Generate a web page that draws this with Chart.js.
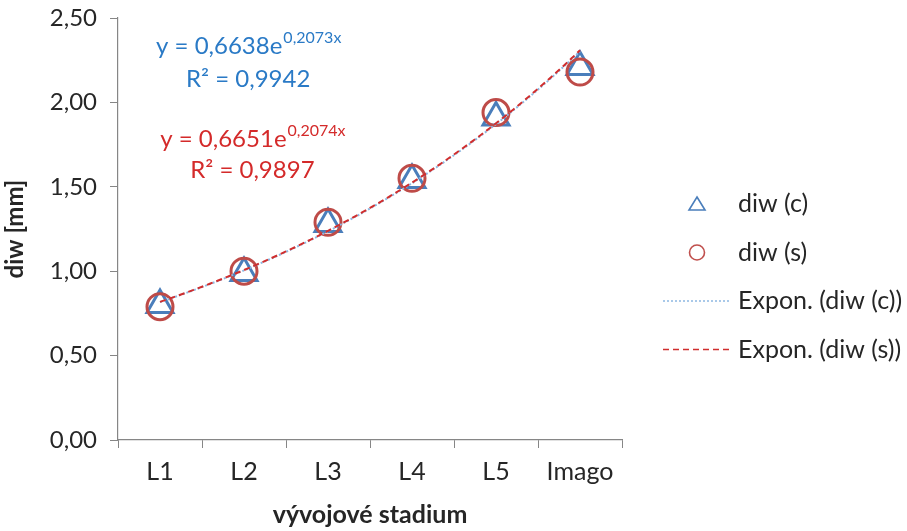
<!DOCTYPE html>
<html>
<head>
<meta charset="utf-8">
<script src="https://cdn.jsdelivr.net/npm/chart.js@4/dist/chart.umd.min.js"></script>
<style>
  html, body { margin: 0; padding: 0; background: #ffffff; }
  #wrap { width: 907px; height: 531px; }
</style>
</head>
<body>
<div id="wrap"><canvas id="chart"></canvas></div>
<script>
// Developmental stages and measured diw [mm]
const stages = ['L1', 'L2', 'L3', 'L4', 'L5', 'Imago'];
const diwC = [0.80, 0.99, 1.28, 1.54, 1.91, 2.21];
const diwS = [0.79, 1.00, 1.29, 1.55, 1.94, 2.18];
const yTicks = [0, 0.5, 1.0, 1.5, 2.0, 2.5];

// Exponential trend lines y = a * e^(b * x)
const fitC = { a: 0.6638, b: 0.2073, r2: 0.9942 };
const fitS = { a: 0.6651, b: 0.2074, r2: 0.9897 };

const FONT = 'Lato, "Open Sans", sans-serif';
const TEXT = '#262626';
const AXIS = '#868686';
const BLUE = '#4A7EBB';
const RED = '#BE4B48';

const fmt = v => v.toFixed(2).replace('.', ',');
const fmt4 = v => v.toFixed(4).replace('.', ',');

function trendPoints(fit) {
  const pts = [];
  for (let i = 0; i <= 50; i++) {
    const x = 1 + i * 0.1;
    pts.push({ x: x, y: fit.a * Math.exp(fit.b * x) });
  }
  return pts;
}

// Equations of the fitted curves, drawn inside the plot
const equationPlugin = {
  id: 'equations',
  afterDatasetsDraw(chart) {
    const ctx = chart.ctx;
    const xs = chart.scales.xt, ys = chart.scales.y;
    const items = [
      { fit: fitC, color: '#2A7AC6', x: 2.05, yEq: 2.335, yR: 2.14 },
      { fit: fitS, color: '#D42A2A', x: 2.10, yEq: 1.782, yR: 1.60 }
    ];
    ctx.save();
    ctx.textBaseline = 'middle';
    items.forEach(it => {
      const cx = xs.getPixelForValue(it.x);
      const main = 'y = ' + fmt4(it.fit.a) + 'e';
      const sup = fmt4(it.fit.b) + 'x';
      ctx.font = '24px ' + FONT;
      const wMain = ctx.measureText(main).width;
      ctx.font = '16px ' + FONT;
      const wSup = ctx.measureText(sup).width;
      const x0 = cx - (wMain + wSup) / 2;
      const yEq = ys.getPixelForValue(it.yEq);
      ctx.fillStyle = it.color;
      ctx.textAlign = 'left';
      ctx.font = '24px ' + FONT;
      ctx.fillText(main, x0, yEq);
      ctx.font = '16px ' + FONT;
      ctx.fillText(sup, x0 + wMain + 1, yEq - 8);
      ctx.font = '24px ' + FONT;
      ctx.textAlign = 'center';
      ctx.fillText('R² = ' + fmt4(it.fit.r2), cx, ys.getPixelForValue(it.yR));
    });
    ctx.restore();
  }
};

// Legend at the right: marker or line sample followed by its label
const legendPlugin = {
  id: 'sideLegend',
  afterDraw(chart) {
    const ctx = chart.ctx;
    const area = chart.chartArea;
    const cx = area.right + 75;
    const tx = area.right + 116;
    const top = area.top + 186;
    const step = 48.5;
    ctx.save();
    chart.data.datasets.forEach((ds, i) => {
      const y = top + i * step;
      if (ds.legendMarker === 'triangle') {
        ctx.strokeStyle = BLUE; ctx.lineWidth = 1.6;
        ctx.beginPath();
        ctx.moveTo(cx, y - 7); ctx.lineTo(cx + 8, y + 6); ctx.lineTo(cx - 8, y + 6);
        ctx.closePath(); ctx.stroke();
      } else if (ds.legendMarker === 'circle') {
        ctx.strokeStyle = '#C0504D'; ctx.lineWidth = 1.6;
        ctx.beginPath(); ctx.arc(cx, y, 7.5, 0, Math.PI * 2); ctx.stroke();
      } else {
        ctx.strokeStyle = ds.borderColor; ctx.lineWidth = 1.5;
        ctx.setLineDash(ds.borderDash || []);
        ctx.beginPath(); ctx.moveTo(cx - 34, y); ctx.lineTo(cx + 34, y); ctx.stroke();
        ctx.setLineDash([]);
      }
      ctx.fillStyle = TEXT;
      ctx.font = '25px ' + FONT;
      ctx.textAlign = 'left';
      ctx.textBaseline = 'middle';
      ctx.fillText(ds.label, tx, y);
    });
    ctx.restore();
  }
};

new Chart(document.getElementById('chart'), {
  type: 'line',
  data: {
    labels: stages,
    datasets: [
      {
        label: 'diw (c)', legendMarker: 'triangle', data: diwC, showLine: false,
        pointStyle: 'triangle', pointRadius: 15, pointBorderWidth: 3,
        borderColor: BLUE, pointBorderColor: BLUE, pointBackgroundColor: 'rgba(0,0,0,0)', order: 3
      },
      {
        label: 'diw (s)', legendMarker: 'circle', data: diwS, showLine: false,
        pointStyle: 'circle', pointRadius: 13, pointBorderWidth: 3,
        borderColor: RED, pointBorderColor: RED, pointBackgroundColor: 'rgba(0,0,0,0)', order: 2
      },
      {
        label: 'Expon. (diw (c))', data: trendPoints(fitC), xAxisID: 'xt',
        borderColor: '#8DB8E2', borderWidth: 2, borderDash: [2, 2], pointRadius: 0,
        tension: 0, fill: false, order: 1
      },
      {
        label: 'Expon. (diw (s))', data: trendPoints(fitS), xAxisID: 'xt',
        borderColor: '#D02E2E', borderWidth: 2, borderDash: [6, 4], pointRadius: 0,
        tension: 0, fill: false, order: 0
      }
    ]
  },
  options: {
    responsive: true,
    maintainAspectRatio: false,
    animation: false,
    devicePixelRatio: 1,
    layout: { padding: { left: 0, top: 15, right: 285, bottom: 0 } },
    plugins: { legend: { display: false }, tooltip: { enabled: false } },
    scales: {
      x: {
        type: 'category',
        offset: true,
        grid: { offset: true, drawOnChartArea: false, drawTicks: true, tickLength: 8, color: AXIS },
        border: { color: AXIS, width: 1.2 },
        ticks: { color: TEXT, font: { family: FONT, size: 25 }, padding: 9, maxRotation: 0 },
        title: { display: true, text: 'vývojové stadium', color: TEXT,
                 font: { family: FONT, size: 25, weight: 'bold' }, padding: { top: 0, bottom: 1 } },
        afterFit(scale) { scale.height = 91; scale.paddingLeft = 0; scale.paddingRight = 0; }
      },
      xt: {
        type: 'linear', display: false, min: 0.5, max: 6.5
      },
      y: {
        min: 0, max: 2.5,
        afterBuildTicks(scale) { scale.ticks = yTicks.map(v => ({ value: v })); },
        grid: { drawOnChartArea: false, drawTicks: true, tickLength: 8, color: AXIS },
        border: { color: AXIS, width: 1.2 },
        ticks: { color: TEXT, font: { family: FONT, size: 24 }, padding: 13, callback: v => fmt(v) },
        title: { display: true, text: 'diw [mm]', color: TEXT,
                 font: { family: FONT, size: 24, weight: 'bold' }, padding: { top: 1, bottom: 0 } },
        afterFit(scale) { scale.width = 118; scale.paddingTop = 0; scale.paddingBottom = 0; }
      }
    }
  },
  plugins: [equationPlugin, legendPlugin]
});
</script>
</body>
</html>
